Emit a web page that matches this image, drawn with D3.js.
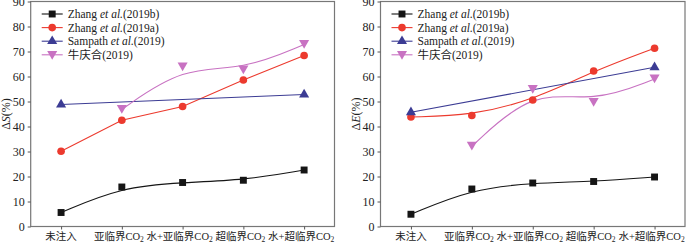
<!DOCTYPE html>
<html>
<head>
<meta charset="utf-8">
<script src="https://cdn.jsdelivr.net/npm/d3@7"></script>
<style>
body { margin: 0; background: #fff; }
svg text { font-family: "Liberation Serif", "Times New Roman", "Noto Sans CJK SC", serif !important; }
</style>
</head>
<body>
<div id="plot"></div>
<script>
var categories = ["未注入", "亚临界CO", "水+亚临界CO", "超临界CO", "水+超临界CO"];
var subs = ["", "2", "2", "2", "2"];
var yTicks = [0, 10, 20, 30, 40, 50, 60, 70, 80, 90];

// left panel: ΔS
var s_zhang2019b = [5.6, 15.8, 17.6, 18.5, 22.6];
var s_zhang2019a = [30.1, 42.5, 48.0, 58.6, 68.4];
var s_sampath = [48.8, null, null, null, 52.8];
var s_niu = [null, 46.8, 63.8, 62.6, 72.8];

// right panel: ΔE
var e_zhang2019b = [4.9, 15.0, 17.4, 18.0, 19.8];
var e_zhang2019a = [43.8, 44.4, 50.6, 62.2, 71.3];
var e_sampath = [45.7, null, null, null, 63.7];
var e_niu = [null, 32.1, 54.8, 49.6, 59.0];

var svg = d3.select("#plot")
            .append("svg")
            .attr("width", 700)
            .attr("height", 244);

var colors = { b: "#151515", a: "#ec3a2e", s: "#3c3c94", n: "#c872c2" };

function drawPanel(x0, x1, ylab, data) {
    var g = svg.append("g");
    var xScale = d3.scalePoint().domain(d3.range(5)).range([x0, x1]).padding(0.5),
        yScale = d3.scaleLinear().domain([0, 90]).range([226.5, 1.5]);

    // frame
    g.append("rect")
        .attr("x", x0).attr("y", yScale(90))
        .attr("width", x1 - x0).attr("height", yScale(0) - yScale(90))
        .style("fill", "none").style("stroke", "#777").style("stroke-width", 1.2);

    var yAxis = g.append("g").attr("transform", "translate(" + x0 + ",0)")
        .call(d3.axisLeft(yScale).tickValues(yTicks).tickSize(3).tickPadding(3));
    yAxis.select(".domain").remove();
    yAxis.selectAll("line").style("stroke", "#555");
    yAxis.selectAll("text").style("font-size", "12px").style("fill", "#222");

    var xAxis = g.append("g").attr("transform", "translate(0," + yScale(0) + ")")
        .call(d3.axisBottom(xScale).tickSize(3).tickFormat(""));
    xAxis.select(".domain").remove();
    xAxis.selectAll("line").style("stroke", "#555");

    var xl = g.selectAll(".xlab")
        .data(categories)
        .enter().append("text")
        .attr("class", "xlab")
        .attr("x", function(d, i){ return xScale(i) - (i ? 3 : 0); })
        .attr("y", 240)
        .attr("text-anchor", "middle")
        .style("font-size", "10.5px")
        .style("fill", "#222");
    xl.append("tspan").text(function(d){ return d; });
    xl.append("tspan")
        .attr("dy", 2)
        .style("font-size", "7.5px")
        .text(function(d, i){ return subs[i]; });

    // y label
    var yl = g.append("text")
        .attr("transform", "translate(" + (x0 - 21) + ",114) rotate(-90)")
        .attr("text-anchor", "middle")
        .style("font-size", "12px")
        .style("fill", "#222");
    yl.append("tspan").text("Δ");
    yl.append("tspan").style("font-style", "italic").text(ylab);
    yl.append("tspan").text("(%)");

    function pts(arr) {
        return arr.map(function(v, i){ return [i, v]; }).filter(function(p){ return p[1] !== null; });
    }
    function line(curve) {
        return d3.line()
            .x(function(p){ return xScale(p[0]); })
            .y(function(p){ return yScale(p[1]); })
            .curve(curve);
    }

    data.forEach(function(s) {
        g.append("path")
            .datum(pts(s.values))
            .attr("d", line(s.curve))
            .style("fill", "none")
            .style("stroke", s.color)
            .style("stroke-width", 1.1);
    });
    data.forEach(function(s) {
        g.selectAll(null)
            .data(pts(s.values))
            .enter().append("path")
            .attr("transform", function(p){
                return "translate(" + xScale(p[0]) + "," + (yScale(p[1]) + s.dy) + ")" + (s.flip ? " rotate(180)" : "");
            })
            .attr("d", d3.symbol().type(s.symbol).size(s.size))
            .style("fill", s.color);
    });

    // legend
    var lg = g.append("g").attr("transform", "translate(" + (x0 + 11) + ",0)");
    data.forEach(function(s, i) {
        var y = 14 + i * 13.6;
        lg.append("line")
            .attr("x1", 0).attr("x2", 21).attr("y1", y).attr("y2", y)
            .style("stroke", s.color).style("stroke-width", 1.1);
        lg.append("path")
            .attr("transform", "translate(10.5," + (y + s.dy * 0.6) + ")" + (s.flip ? " rotate(180)" : ""))
            .attr("d", d3.symbol().type(s.symbol).size(s.size))
            .style("fill", s.color);
        var t = lg.append("text")
            .attr("x", 26)
            .attr("y", y + 4)
            .style("font-size", "11.5px")
            .style("fill", "#222");
        s.label.forEach(function(part) {
            t.append("tspan")
                .style("font-style", part[1] ? "italic" : "normal")
                .text(part[0]);
        });
    });
}

function series(b, a, s, n, redCurve) {
    return [
        { values: b, color: colors.b, symbol: d3.symbolSquare, size: 48, dy: 0, curve: d3.curveBasis,
          label: [["Zhang ", false], ["et al.", true], ["(2019b)", false]] },
        { values: a, color: colors.a, symbol: d3.symbolCircle, size: 46, dy: 0, curve: redCurve,
          label: [["Zhang ", false], ["et al.", true], ["(2019a)", false]] },
        { values: s, color: colors.s, symbol: d3.symbolTriangle, size: 44, dy: 0, curve: d3.curveLinear,
          label: [["Sampath ", false], ["et al.", true], ["(2019)", false]] },
        { values: n, color: colors.n, symbol: d3.symbolTriangle, size: 44, dy: -1.5, flip: true, curve: d3.curveBasis,
          label: [["牛庆合(2019)", false]] }
    ];
}

drawPanel(30.7, 334.5, "S", series(s_zhang2019b, s_zhang2019a, s_sampath, s_niu, d3.curveLinear));
drawPanel(380.5, 685, "E", series(e_zhang2019b, e_zhang2019a, e_sampath, e_niu, d3.curveBasis));
</script>
</body>
</html>
